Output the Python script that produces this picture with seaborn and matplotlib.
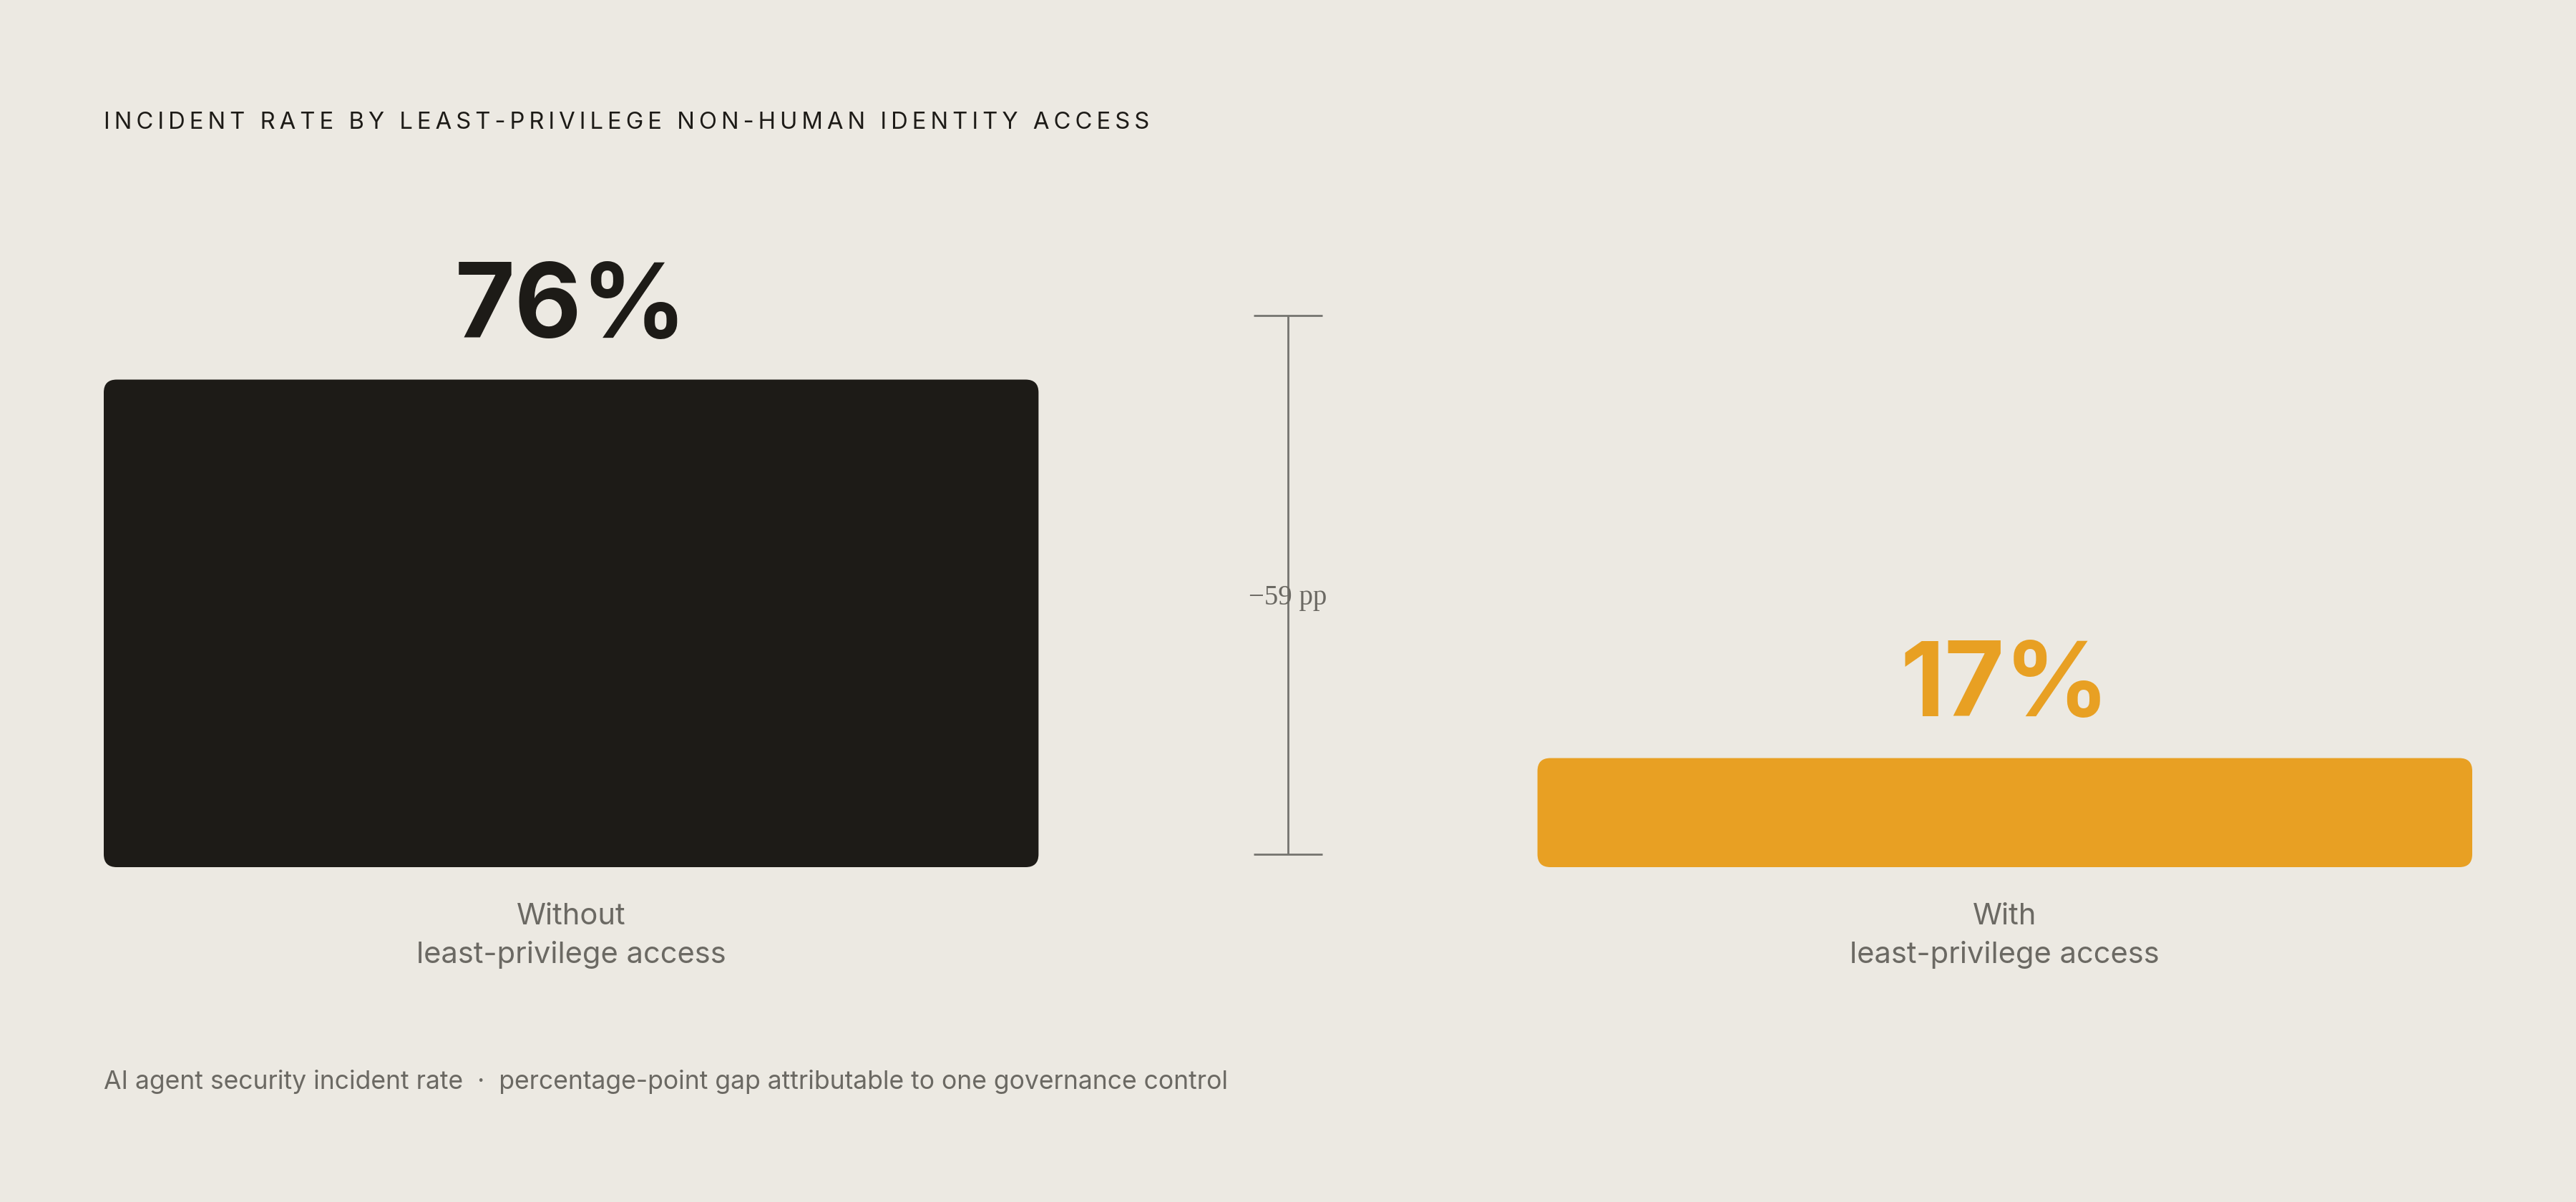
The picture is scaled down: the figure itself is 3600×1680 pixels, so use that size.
import matplotlib.pyplot as plt
import seaborn as sns
from matplotlib.patches import FancyBboxPatch

# Data
categories = ["Without\nleast-privilege access", "With\nleast-privilege access"]
values = [76, 17]
colors = ["#1d1b17", "#e8a023"]
value_labels = ["76%", "17%"]

BG = "#ece9e2"
GREY = "#6b6963"
FONT = ["Inter", "DejaVu Sans"]

sns.set_theme(style="white")
plt.rcParams["font.family"] = FONT

fig = plt.figure(figsize=(18, 8.4), dpi=200)
fig.patch.set_facecolor(BG)
ax = fig.add_axes([145 / 3600, 1 - 1212 / 1680, 3310 / 3600, 807 / 1680])
ax.set_facecolor(BG)

sns.barplot(x=categories, y=values, hue=categories, palette=colors,
            width=0.652, saturation=1, legend=False, ax=ax)
ax.set_xlim(-0.326, 1.326)
ax.set_ylim(0, 90)

# swap square bars for rounded ones
fig.canvas.draw()
px_x = ax.transData.transform([(1, 0)])[0][0] - ax.transData.transform([(0, 0)])[0][0]
px_y = ax.transData.transform([(0, 1)])[0][1] - ax.transData.transform([(0, 0)])[0][1]
radius_px = 18
for bar in list(ax.patches):
    x, y = bar.get_x(), bar.get_y()
    w, h = bar.get_width(), bar.get_height()
    rounded = FancyBboxPatch((x, y), w, h,
                             boxstyle=f"round,pad=0,rounding_size={radius_px / px_x}",
                             mutation_aspect=px_x / px_y,
                             facecolor=bar.get_facecolor(), edgecolor="none")
    bar.remove()
    ax.add_patch(rounded)

# value labels
for i, (v, lab) in enumerate(zip(values, value_labels)):
    ax.annotate(lab, (i, v), xytext=(0, 21), textcoords="offset points",
                ha="center", va="baseline", fontsize=52, fontweight="bold",
                color=colors[i])

# gap bracket
bracket_top, bracket_bottom = 86, 2
mid = (bracket_top + bracket_bottom) / 2
ax.errorbar(0.5, mid, yerr=(bracket_top - bracket_bottom) / 2, color="#75746f",
            capsize=17.3, elinewidth=1.0, capthick=1.0, fmt="none")
gap = values[1] - values[0]
ax.text(0.5, mid - 2, f"\u2212{abs(gap)} pp", ha="center", va="center",
        fontsize=14, color=GREY, family=["Liberation Serif", "DejaVu Serif"])

# axes styling
sns.despine(ax=ax, left=True, bottom=True)
ax.set_yticks([])
ax.set_xlabel("")
ax.set_ylabel("")
ax.tick_params(axis="x", length=0, pad=18, labelsize=15, labelcolor=GREY)
for t in ax.get_xticklabels():
    t.set_linespacing(1.5)

title = "INCIDENT RATE BY LEAST-PRIVILEGE NON-HUMAN IDENTITY ACCESS"
fig.text(145 / 3600, 1 - 172 / 1680, "\u2009".join(title), fontsize=11.8,
         color="#1d1b17", va="center", ha="left")
fig.text(145 / 3600, 1 - 1512 / 1680,
         "AI agent security incident rate  \u00b7  percentage-point gap attributable to one governance control",
         fontsize=12.8, color=GREY, va="center", ha="left")

fig.savefig("out.png", dpi=200, facecolor=BG)
